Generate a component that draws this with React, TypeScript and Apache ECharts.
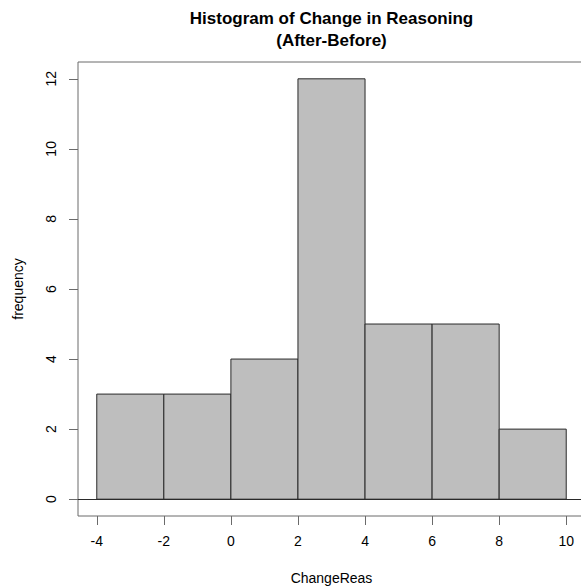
import React, { useEffect, useRef } from "react";
import * as echarts from "echarts";

const binStarts = [-4, -2, 0, 2, 4, 6, 8];
const binEnds = [-2, 0, 2, 4, 6, 8, 10];
const frequencies = [3, 3, 4, 12, 5, 5, 2];
const xTicks = [-4, -2, 0, 2, 4, 6, 8, 10];
const yTicks = [0, 2, 4, 6, 8, 10, 12];
const titleLines = ["Histogram of Change in Reasoning", "(After-Before)"];
const xLabel = "ChangeReas";
const yLabel = "frequency";

const FONT = '"Liberation Sans", Arial, sans-serif';

export default function App() {
  const ref = useRef<HTMLDivElement>(null);
  useEffect(() => {
    if (!ref.current) return;
    const chart = echarts.init(ref.current, undefined, { renderer: "svg" });
    const xLo = Math.min(...binStarts);
    const xHi = Math.max(...binEnds);
    const xPad = (xHi - xLo) * 0.04;
    const yHi = Math.max(...frequencies);
    const yPad = yHi * 0.04;
    const data = binStarts.map((s, i) => [s, binEnds[i], frequencies[i]]);
    chart.setOption({
      animation: false,
      backgroundColor: "#ffffff",
      grid: {
        left: 78,
        top: 62,
        right: 0,
        bottom: 71,
        show: true,
        borderColor: "#6a6a6a",
        borderWidth: 1,
        backgroundColor: "transparent",
      },
      xAxis: {
        type: "value",
        min: xLo - xPad,
        max: xHi + xPad,
        splitLine: { show: false },
        axisLine: { show: false, onZero: false },
        axisTick: {
          show: true,
          customValues: xTicks,
          length: 9,
          lineStyle: { color: "#6a6a6a" },
        },
        axisLabel: {
          customValues: xTicks,
          margin: 18,
          fontSize: 14,
          fontFamily: FONT,
          color: "#000",
          showMinLabel: true,
          showMaxLabel: true,
        },
      },
      yAxis: {
        type: "value",
        min: -yPad,
        max: yHi + yPad,
        splitLine: { show: false },
        axisLine: { show: false, onZero: false },
        axisTick: {
          show: true,
          customValues: yTicks,
          length: 9,
          lineStyle: { color: "#6a6a6a" },
        },
        axisLabel: {
          customValues: yTicks,
          rotate: 90,
          margin: 20,
          fontSize: 14,
          fontFamily: FONT,
          color: "#000",
          showMinLabel: true,
          showMaxLabel: true,
        },
      },
      graphic: [
        {
          type: "text",
          x: 331.5,
          y: 18,
          style: {
            text: titleLines[0],
            font: `bold 17px ${FONT}`,
            fill: "#000",
            textAlign: "center",
            textVerticalAlign: "middle",
          },
        },
        {
          type: "text",
          x: 331.5,
          y: 40,
          style: {
            text: titleLines[1],
            font: `bold 17px ${FONT}`,
            fill: "#000",
            textAlign: "center",
            textVerticalAlign: "middle",
          },
        },
        {
          type: "text",
          x: 331.5,
          y: 578,
          style: {
            text: xLabel,
            font: `14px ${FONT}`,
            fill: "#000",
            textAlign: "center",
            textVerticalAlign: "middle",
          },
        },
        {
          type: "text",
          x: 18,
          y: 289,
          rotation: Math.PI / 2,
          style: {
            text: yLabel,
            font: `14px ${FONT}`,
            fill: "#000",
            textAlign: "center",
            textVerticalAlign: "middle",
          },
        },
      ],
      series: [
        {
          type: "custom",
          data,
          encode: { x: [0, 1], y: 2 },
          renderItem: (params: any, api: any) => {
            const x0 = api.value(0);
            const x1 = api.value(1);
            const v = api.value(2);
            const p0 = api.coord([x0, v]);
            const p1 = api.coord([x1, 0]);
            return {
              type: "rect",
              shape: {
                x: p0[0],
                y: p0[1],
                width: p1[0] - p0[0],
                height: p1[1] - p0[1],
              },
              style: { fill: "#BEBEBE", stroke: "#2a2a2a", lineWidth: 1 },
            };
          },
          markLine: {
            silent: true,
            symbol: "none",
            label: { show: false },
            lineStyle: { color: "#2a2a2a", type: "solid", width: 1 },
            data: [{ yAxis: 0 }],
          },
        },
      ],
    });
    return () => chart.dispose();
  }, []);
  return (
    <div
      style={{
        position: "fixed",
        left: 0,
        top: 0,
        width: 581,
        height: 587,
        overflow: "hidden",
      }}
    >
      <div ref={ref} style={{ width: 585, height: 587 }} />
    </div>
  );
}
